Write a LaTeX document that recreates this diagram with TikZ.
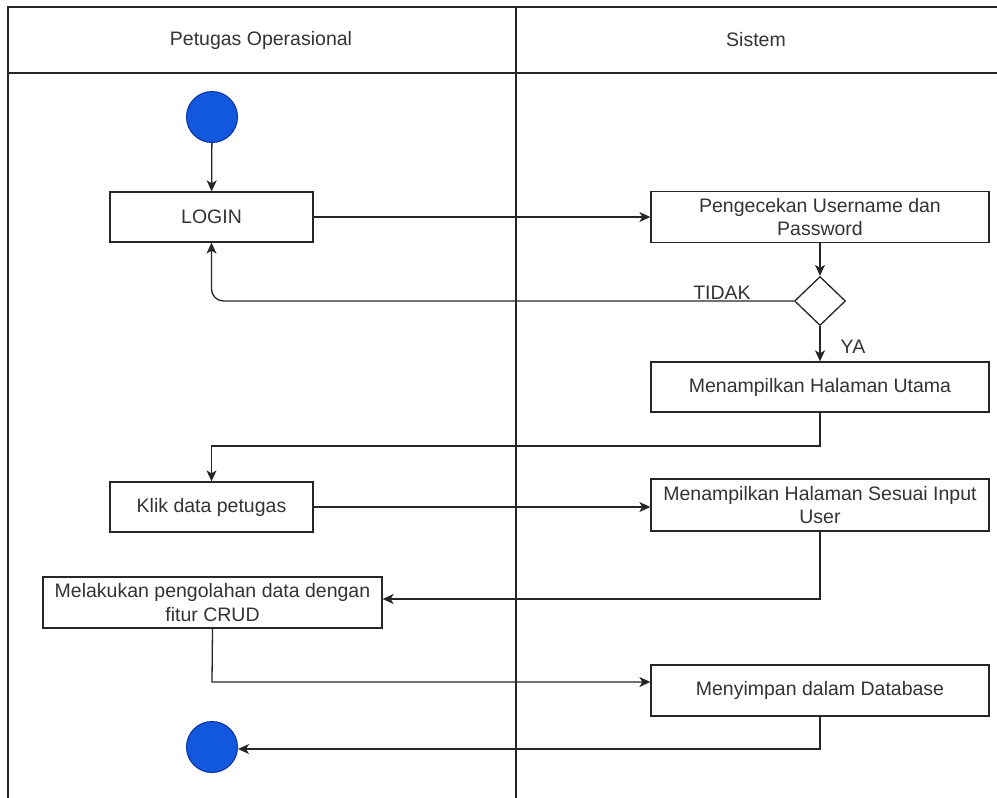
\documentclass[tikz,border=0pt]{standalone}
\usepackage{fontspec}
\setmainfont{Liberation Sans}
\usetikzlibrary{shapes.geometric,arrows.meta,calc}
\definecolor{txt}{HTML}{333333}
\definecolor{dotblue}{RGB}{18,88,222}
\definecolor{dotedge}{RGB}{10,50,160}
\begin{document}
\begin{tikzpicture}[x=1pt,y=-1pt,
  every node/.style={font=\fontsize{19.5}{23.5}\selectfont, text=txt},
  act/.style={draw=black!85, line width=1.3pt, fill=white, rectangle, align=center, inner sep=0pt},
  dot/.style={circle, draw=dotedge, line width=1pt, fill=dotblue, minimum size=51pt, inner sep=0pt},
  dec/.style={diamond, draw=black!85, line width=1.3pt, fill=white, minimum width=51pt, minimum height=49pt, inner sep=0pt, aspect=1},
  lane/.style={draw=black!85, line width=1.3pt},
  flow/.style={draw=black!85, line width=1.3pt, -{Stealth[length=11pt,width=10pt,inset=3pt]}},
  lbl/.style={font=\fontsize{19.5}{23.5}\selectfont, text=txt}]
\useasboundingbox (0,0) rectangle (997,798);
\fill[white] (0,0) rectangle (997,798);
% swimlanes
\draw[lane] (997,7) -- (8,7) -- (8,798);
\draw[lane] (8,73) -- (997,73);
\draw[lane] (516,7) -- (516,798);
\node[lbl] (h1) at (261,40) {Petugas Operasional};
\node[lbl] (h2) at (756,40) {Sistem};
% nodes
\node[dot] (start) at (212,117) {};
\node[act, minimum width=203pt, minimum height=50pt] (login) at (211.5,217) {LOGIN};
\node[act, minimum width=338pt, minimum height=51pt] (cek) at (820,217) {Pengecekan Username dan\\Password};
\node[dec] (d) at (820,301) {};
\node[act, minimum width=338pt, minimum height=50pt] (utama) at (820,387) {Menampilkan Halaman Utama};
\node[act, minimum width=203pt, minimum height=50pt] (klik) at (211.5,507) {Klik data petugas};
\node[act, minimum width=338pt, minimum height=52pt] (sesuai) at (820,505) {Menampilkan Halaman Sesuai Input\\User};
\node[act, minimum width=339pt, minimum height=51pt] (crud) at (212.5,602.5) {Melakukan pengolahan data dengan\\fitur CRUD};
\node[act, minimum width=338pt, minimum height=51pt] (simpan) at (820,690.5) {Menyimpan dalam Database};
\node[dot] (end) at (212,747) {};
% labels
\node[lbl] (tidak) at (722,293) {TIDAK};
\node[lbl] (ya) at (853,347) {YA};
% connectors
\draw[flow] (start) -- (login);
\draw[flow] (login) -- (cek);
\draw[flow] (cek) -- (d);
\draw[flow, rounded corners=12pt] (d.west) -- (login.south |- d.west) -- (login.south);
\draw[flow] (d) -- (utama);
\coordinate (c1) at (820,446);
\draw[flow] (utama.south) -- (c1) -- (klik.north |- c1) -- (klik.north);
\draw[flow] (klik.east) -- (sesuai.west |- klik.east);
\coordinate (c2) at (820,599);
\draw[flow] (sesuai.south) -- (c2) -- (crud.east |- c2);
\coordinate (c3) at (212,682);
\draw[flow] (crud.south) -- (c3) -- (simpan.west |- c3);
\coordinate (c4) at (820,749);
\draw[flow] (simpan.south) -- (c4) -- (end.east |- c4);
\end{tikzpicture}
\end{document}
